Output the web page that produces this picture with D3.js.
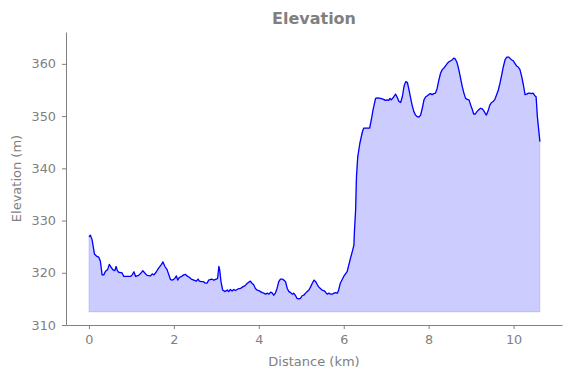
<!DOCTYPE html>
<html>
<head>
<meta charset="utf-8">
<script src="https://cdn.jsdelivr.net/npm/d3@7"></script>
<style>
  body { margin: 0; background: #fff; }
  text { font-family: 'DejaVu Sans', sans-serif; }
</style>
</head>
<body>
<div id="chart-area"></div>
<script>
// distance along the route (km) and elevation (m)
const distance = [
  0, 0.035, 0.075, 0.13, 0.177, 0.23, 0.27, 0.31, 0.35, 0.39, 0.44, 0.48, 0.52, 0.56, 0.61, 0.64, 0.67, 0.70,
  0.78, 0.82, 0.90, 0.98, 1.02, 1.06, 1.10, 1.17, 1.21, 1.27, 1.31, 1.37, 1.45, 1.49, 1.53, 1.58, 1.64, 1.71,
  1.74, 1.79, 1.84, 1.92, 1.97, 2.02, 2.06, 2.09, 2.13, 2.18, 2.23, 2.27, 2.31, 2.37, 2.41, 2.47, 2.53, 2.57,
  2.60, 2.65, 2.70, 2.74, 2.78, 2.82, 2.89, 2.94, 3.00, 3.03, 3.06, 3.08, 3.11, 3.15, 3.20, 3.26, 3.29, 3.33,
  3.37, 3.41, 3.45, 3.51, 3.57, 3.62, 3.67, 3.73, 3.80, 3.84, 3.88, 3.92, 3.96, 4.00, 4.04, 4.08, 4.12, 4.16,
  4.20, 4.24, 4.28, 4.32, 4.35, 4.39, 4.43, 4.47, 4.51, 4.55, 4.59, 4.63, 4.67, 4.71, 4.75, 4.79, 4.82, 4.86,
  4.90, 4.94, 4.98, 5.02, 5.06, 5.10, 5.14, 5.18, 5.22, 5.26, 5.30, 5.34, 5.38, 5.41, 5.45, 5.49, 5.53, 5.57,
  5.61, 5.65, 5.69, 5.73, 5.77, 5.81, 5.85, 5.88, 5.92, 6.00, 6.08, 6.12, 6.16, 6.20, 6.24, 6.25, 6.28, 6.30,
  6.33, 6.38, 6.44, 6.47, 6.55, 6.61, 6.65, 6.69, 6.75, 6.79, 6.87, 6.94, 6.98, 7.02, 7.06, 7.09, 7.12, 7.15,
  7.18, 7.22, 7.26, 7.30, 7.34, 7.38, 7.42, 7.46, 7.50, 7.53, 7.57, 7.61, 7.65, 7.69, 7.73, 7.77, 7.81, 7.85,
  7.89, 7.93, 7.97, 8.00, 8.04, 8.08, 8.12, 8.16, 8.20, 8.24, 8.28, 8.32, 8.36, 8.44, 8.48, 8.52, 8.56, 8.59,
  8.63, 8.67, 8.71, 8.75, 8.79, 8.83, 8.87, 8.91, 8.95, 8.99, 9.03, 9.06, 9.10, 9.14, 9.18, 9.22, 9.26, 9.30,
  9.34, 9.36, 9.40, 9.44, 9.48, 9.52, 9.56, 9.60, 9.64, 9.68, 9.72, 9.76, 9.80, 9.84, 9.88, 9.91, 9.95, 9.99,
  10.03, 10.07, 10.11, 10.15, 10.19, 10.23, 10.27, 10.31, 10.35, 10.38, 10.42, 10.46, 10.50, 10.53, 10.56, 10.60, 10.62
];
const elevation = [
  326.9, 327.2, 326.3, 323.6, 323.2, 323.0, 322.2, 319.6, 319.6, 320.3, 320.6, 321.6, 321.1, 320.6, 320.4, 321.2, 320.4, 320.1,
  320.0, 319.3, 319.3, 319.3, 319.6, 320.2, 319.3, 319.5, 319.8, 320.4, 320.0, 319.5, 319.4, 319.8, 319.6, 320.1, 320.9, 321.6,
  322.1, 321.2, 320.6, 318.7, 318.6, 318.9, 319.4, 318.6, 319.1, 319.3, 319.6, 319.7, 319.4, 319.1, 318.8, 318.6, 318.4, 318.8,
  318.4, 318.3, 318.3, 318.0, 318.0, 318.6, 318.8, 318.6, 318.8, 318.9, 321.2, 320.5, 318.3, 316.7, 316.4, 316.7, 316.4, 316.8,
  316.5, 316.8, 316.6, 316.9, 317.0, 317.3, 317.5, 318.0, 318.4, 318.0, 317.7, 317.0, 316.7, 316.6, 316.4, 316.2, 316.1, 315.9,
  316.1, 315.9, 316.3, 316.1, 315.7, 316.1, 317.0, 318.3, 318.8, 318.8, 318.6, 318.3, 317.0, 316.4, 316.2, 315.9, 316.1, 315.7,
  315.1, 315.0, 315.1, 315.6, 315.7, 316.1, 316.4, 316.7, 317.3, 318.0, 318.6, 318.3, 317.7, 317.3, 317.0, 316.7, 316.6, 316.3,
  315.9, 316.1, 315.9, 315.9, 316.1, 316.2, 316.1, 316.7, 318.0, 319.3, 320.2, 321.5, 322.8, 324.0, 325.3, 327.6, 332.0, 338.4,
  342.2, 344.8, 347.0, 347.7, 347.7, 347.7, 349.3, 351.2, 353.4, 353.5, 353.4, 353.2, 353.0, 353.1, 353.0, 353.4, 353.1, 353.4,
  353.7, 354.2, 353.6, 352.8, 352.6, 353.7, 355.7, 356.6, 356.4, 355.3, 353.7, 352.1, 350.9, 350.2, 349.9, 349.8, 350.2, 351.5,
  353.1, 353.7, 353.9, 354.1, 354.3, 354.1, 354.3, 354.4, 355.3, 356.9, 358.2, 358.9, 359.2, 360.1, 360.4, 360.6, 360.8, 361.1,
  360.9, 360.2, 358.9, 357.3, 355.7, 354.4, 353.4, 353.2, 353.1, 352.1, 351.2, 350.4, 350.4, 350.9, 351.2, 351.5, 351.4, 351.0,
  350.4, 350.2, 351.0, 352.1, 352.6, 352.8, 353.2, 354.1, 355.0, 356.3, 357.9, 359.5, 360.8, 361.3, 361.3, 361.1, 360.8, 360.6,
  360.1, 359.6, 359.4, 358.9, 357.6, 356.0, 354.1, 354.2, 354.4, 354.4, 354.3, 354.4, 353.9, 353.7, 349.9, 346.7, 345.1
];
const baseElevation = 312.5;
const xTicks = [0, 2, 4, 6, 8, 10];
const yTicks = [310, 320, 330, 340, 350, 360];

const data = distance.map((d, i) => ({ distance: d, elevation: elevation[i] }));

const margins = { top: 32, right: 9, bottom: 53, left: 66 };
const width = 571 - margins.left - margins.right;
const height = 378 - margins.top - margins.bottom;
const grey = '#808080';

const svg = d3.select('#chart-area')
  .append('svg')
  .attr('width', 571)
  .attr('height', 378);

const g = svg.append('g')
  .attr('transform', 'translate(' + margins.left + ', ' + margins.top + ')');

const x = d3.scaleLinear()
  .domain([-0.54, 11.14])
  .range([0, width]);

const y = d3.scaleLinear()
  .domain([310, 366.1])
  .range([height, 0]);

// filled area under the profile
const area = d3.area()
  .x((d) => x(d.distance))
  .y0(y(baseElevation))
  .y1((d) => y(d.elevation));

g.append('path')
  .datum(data)
  .attr('d', area)
  .attr('fill', 'rgba(0, 0, 255, 0.2)')
  .attr('stroke', 'rgba(0, 0, 255, 0.12)')
  .attr('stroke-width', 1);

const line = d3.line()
  .x((d) => x(d.distance))
  .y((d) => y(d.elevation));

g.append('path')
  .datum(data)
  .attr('d', line)
  .attr('fill', 'none')
  .attr('stroke', 'blue')
  .attr('stroke-width', 1.3)
  .attr('stroke-linejoin', 'round');

// axes
const xAxisCall = d3.axisBottom(x)
  .tickValues(xTicks)
  .tickSize(4)
  .tickPadding(6)
  .tickSizeOuter(0);

const xAxis = g.append('g')
  .attr('transform', 'translate(0, ' + height + ')')
  .call(xAxisCall);

const yAxisCall = d3.axisLeft(y)
  .tickValues(yTicks)
  .tickSize(4)
  .tickPadding(6)
  .tickSizeOuter(0);

const yAxis = g.append('g')
  .call(yAxisCall);

[xAxis, yAxis].forEach((axis) => {
  axis.select('.domain').attr('stroke', grey).attr('stroke-width', 1);
  axis.selectAll('.tick line').attr('stroke', grey);
  axis.selectAll('.tick text')
    .attr('fill', grey)
    .attr('font-size', '12.8px')
    .attr('font-family', 'DejaVu Sans, sans-serif');
});

// labels
svg.append('text')
  .attr('x', margins.left + width / 2)
  .attr('y', 24)
  .attr('text-anchor', 'middle')
  .attr('font-size', '16px')
  .attr('font-weight', 'bold')
  .attr('fill', grey)
  .text('Elevation');

svg.append('text')
  .attr('x', margins.left + width / 2)
  .attr('y', 366)
  .attr('text-anchor', 'middle')
  .attr('font-size', '13px')
  .attr('fill', grey)
  .text('Distance (km)');

svg.append('text')
  .attr('transform', 'translate(21, ' + (margins.top + height / 2) + ') rotate(-90)')
  .attr('text-anchor', 'middle')
  .attr('font-size', '13px')
  .attr('fill', grey)
  .text('Elevation (m)');
</script>
</body>
</html>
